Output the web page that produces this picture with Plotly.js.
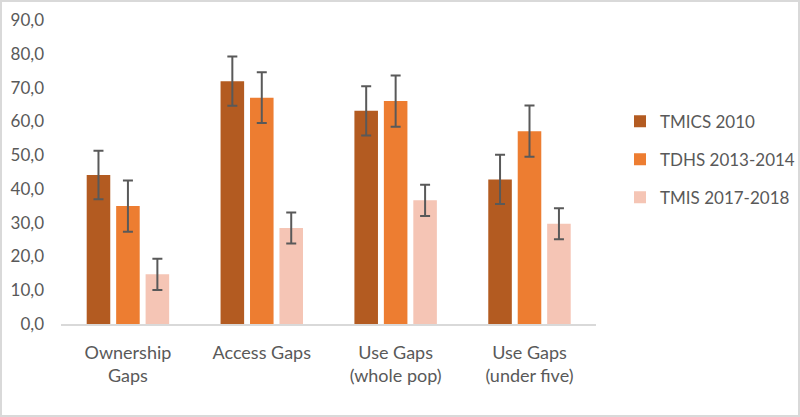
<!DOCTYPE html>
<html><head><meta charset="utf-8">
<script src="https://cdn.plot.ly/plotly-3.0.1.min.js"></script>
<style>
html,body{margin:0;padding:0;background:#fff;}
#wrap{width:800px;height:417px;box-sizing:border-box;border:2px solid #d9d9d9;position:relative;overflow:hidden;}
#chart{position:absolute;left:-2px;top:-2px;width:800px;height:417px;}
</style></head>
<body><div id="wrap"><div id="chart"></div></div>
<script>
const categories = ["Ownership<br>Gaps", "Access Gaps", "Use Gaps<br>(whole pop)", "Use Gaps<br>(under five)"];
const seriesNames = ["TMICS 2010", "TDHS 2013-2014", "TMIS 2017-2018"];
const tmics = [44.1, 71.9, 63.1, 42.8];
const tmicsErr = [7.2, 7.3, 7.3, 7.3];
const tdhs = [34.9, 67.0, 66.0, 57.1];
const tdhsErr = [7.6, 7.5, 7.6, 7.6];
const tmis = [14.7, 28.4, 36.6, 29.7];
const tmisErr = [4.6, 4.6, 4.6, 4.6];
const colors = ["#B35B21", "#ED7D31", "#F5C5B5"];

const values = [tmics, tdhs, tmis];
const errs = [tmicsErr, tdhsErr, tmisErr];
const traces = values.map((v, i) => ({
  type: 'bar', name: seriesNames[i], x: categories, y: v,
  legendgroup: 'g' + i,
  marker: {color: colors[i]},
  error_y: {type: 'data', array: errs[i], visible: true, color: '#595959', thickness: 2, width: 5},
  hoverinfo: 'none'
}));
const fam = 'Lato, "Liberation Sans", sans-serif';
const font = {family: fam, size: 17, color: '#595959'};
const layout = {
  width: 800, height: 417,
  margin: {l: 61, r: 0, t: 20, b: 93},
  paper_bgcolor: '#fff', plot_bgcolor: '#fff',
  font: font,
  separators: ', ',
  barmode: 'group', bargap: 0.34, bargroupgap: 0.2,
  showlegend: true,
  legend: {x: 0.77, xanchor: 'left', y: 0.725, yanchor: 'top', font: {family: fam, size: 17, color: '#595959'}, tracegroupgap: 13, traceorder: 'grouped'},
  xaxis: {domain: [0, 0.7375], showgrid: false, showline: true, linecolor: '#d9d9d9', linewidth: 2, ticks: '', tickfont: {family: fam, size: 18, color: '#595959'}, ticklabelstandoff: 11, fixedrange: true},
  yaxis: {range: [0, 90], dtick: 10, tickformat: '.1f', showgrid: false, zeroline: false, showline: false, ticks: '', tickfont: font, ticklabelstandoff: 16, fixedrange: true}
};
Plotly.newPlot('chart', traces, layout, {displayModeBar: false, staticPlot: true});
</script></body></html>
